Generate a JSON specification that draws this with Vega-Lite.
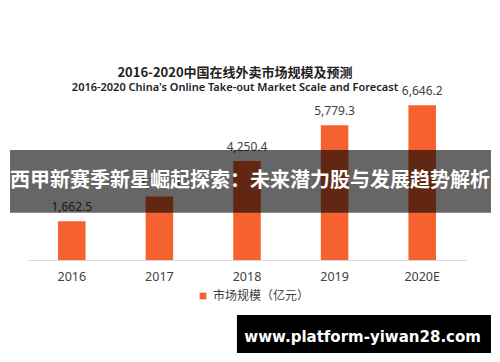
{
  "$schema": "https://vega.github.io/schema/vega-lite/v6.json",
  "width": 438,
  "height": 160,
  "autosize": {"type": "none"},
  "padding": {"left": 28, "top": 100, "right": 34, "bottom": 102},
  "background": "white",
  "title": {
    "text": "2016-2020中国在线外卖市场规模及预测",
    "subtitle": "2016-2020 China's Online Take-out Market Scale and Forecast",
    "anchor": "middle",
    "dx": -12,
    "offset": -8,
    "font": "Noto Sans CJK SC",
    "fontSize": 13,
    "fontWeight": "bold",
    "color": "#222222",
    "subtitleFont": "Noto Sans",
    "subtitleFontSize": 11,
    "subtitleFontWeight": 600,
    "subtitleColor": "#222222",
    "subtitlePadding": 2
  },
  "config": {"view": {"stroke": null}},
  "resolve": {"scale": {"x": "independent"}},
  "layer": [
    {
      "data": {
        "values": [
          {"year": "2016", "value": 1662.5, "series": "市场规模（亿元）"},
          {"year": "2017", "value": 2720.0, "series": "市场规模（亿元）"},
          {"year": "2018", "value": 4250.4, "series": "市场规模（亿元）"},
          {"year": "2019", "value": 5779.3, "series": "市场规模（亿元）"},
          {"year": "2020E", "value": 6646.2, "series": "市场规模（亿元）"}
        ]
      },
      "resolve": {"scale": {"x": "shared"}},
      "layer": [
        {
          "mark": {"type": "bar", "color": "#F5612F"},
          "encoding": {
            "x": {
              "field": "year", "type": "nominal", "sort": null,
              "scale": {"paddingInner": 0.686, "paddingOuter": 0.343},
              "axis": {
                "title": null, "ticks": false, "labelAngle": 0,
                "domainColor": "#d9d9d9", "labelPadding": 10,
                "labelFont": "Noto Sans", "labelFontSize": 12.5, "labelColor": "#404040"
              }
            },
            "y": {"field": "value", "type": "quantitative", "scale": {"domain": [0, 6867], "nice": false}, "axis": null},
            "color": {
              "field": "series", "type": "nominal",
              "scale": {"range": ["#F5612F"]},
              "legend": {
                "title": null, "orient": "none", "legendX": 169, "legendY": 190,
                "symbolType": "square", "symbolSize": 45, "symbolStrokeWidth": 0,
                "labelFont": "Noto Sans CJK SC", "labelFontSize": 12, "labelColor": "#404040"
              }
            }
          }
        },
        {
          "mark": {"type": "text", "baseline": "bottom", "dy": -7, "font": "Noto Sans", "fontSize": 12, "color": "#404040"},
          "encoding": {
            "x": {"field": "year", "type": "nominal", "sort": null},
            "y": {"field": "value", "type": "quantitative", "scale": {"domain": [0, 6867], "nice": false}},
            "text": {"field": "value", "type": "quantitative", "format": ",.1f"}
          }
        }
      ]
    },
    {
      "data": {"values": [{}]},
      "mark": {"type": "rect", "color": "#000000", "opacity": 0.6},
      "encoding": {
        "x": {"datum": -0.041, "type": "quantitative", "scale": {"domain": [0, 1], "nice": false, "zero": false}, "axis": null},
        "x2": {"datum": 1.057},
        "y": {"datum": 4721, "type": "quantitative", "scale": {"domain": [0, 6867], "nice": false}},
        "y2": {"datum": 2030}
      }
    },
    {
      "data": {"values": [{}]},
      "mark": {"type": "text", "font": "Noto Sans CJK SC", "fontSize": 20, "fontWeight": "bold", "color": "#ffffff", "baseline": "middle", "align": "center"},
      "encoding": {
        "x": {"datum": 0.507, "type": "quantitative", "scale": {"domain": [0, 1], "nice": false, "zero": false}, "axis": null},
        "y": {"datum": 3391, "type": "quantitative", "scale": {"domain": [0, 6867], "nice": false}},
        "text": {"value": "西甲新赛季新星崛起探索：未来潜力股与发展趋势解析"}
      }
    },
    {
      "data": {"values": [{}]},
      "mark": {"type": "rect", "color": "#000000"},
      "encoding": {
        "x": {"datum": 0.477, "type": "quantitative", "scale": {"domain": [0, 1], "nice": false, "zero": false}, "axis": null},
        "x2": {"datum": 1.057},
        "y": {"datum": -2361, "type": "quantitative", "scale": {"domain": [0, 6867], "nice": false}},
        "y2": {"datum": -3991}
      }
    },
    {
      "data": {"values": [{}]},
      "mark": {"type": "text", "font": "DejaVu Sans", "fontSize": 15, "fontWeight": "bold", "color": "#ffffff", "baseline": "middle", "align": "center"},
      "encoding": {
        "x": {"datum": 0.764, "type": "quantitative", "scale": {"domain": [0, 1], "nice": false, "zero": false}, "axis": null},
        "y": {"datum": -3305, "type": "quantitative", "scale": {"domain": [0, 6867], "nice": false}},
        "text": {"value": "www.platform-yiwan28.com"}
      }
    }
  ]
}
